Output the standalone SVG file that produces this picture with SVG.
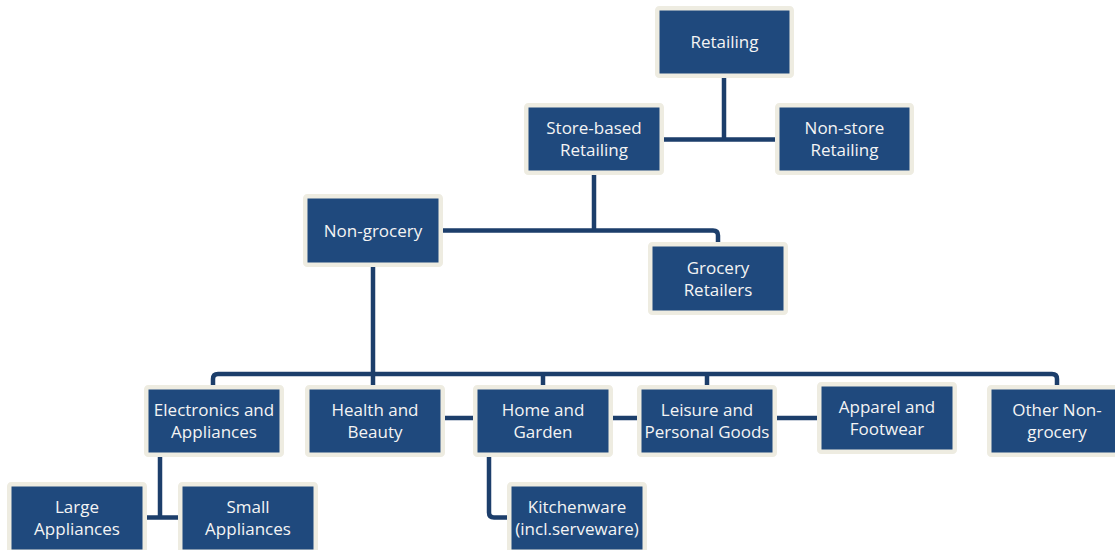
<svg xmlns="http://www.w3.org/2000/svg" width="1115" height="550" viewBox="0 0 1115 550">
<style>
.box{fill:#1F497D;stroke:#EEECE1;stroke-width:4.5}
.t{font-family:"Open Sans","Noto Sans",sans-serif;font-size:17px;fill:#F4F4F4;text-anchor:middle}
.c{fill:none;stroke:#1C3E6B;stroke-width:4.5;stroke-linejoin:round}
</style>
<rect width="1115" height="550" fill="#FFFFFF"/>
<g id="connectors" class="c">
<path d="M724,78 V139.5 M664,139.5 H775"/>
<path d="M594,175 V230.5 M443,230.5 H713 Q718,230.5 718,235.5 V242"/>
<path d="M373,267 V385"/>
<path d="M213,385 V379 Q213,374 218,374 H1052 Q1057,374 1057,379 V385 M543,374 V385 M707,374 V385"/>
<path d="M445,418 H473 M613,418 H637 M777,418 H817"/>
<path d="M160,457 V517.5 M147,517.5 H178"/>
<path d="M489,457 V512.5 Q489,517.5 494,517.5 H507"/>
</g>
<g id="retailing"><rect class="box" x="657.25" y="8.25" width="134.5" height="67.5" rx="2"/><text class="t" x="724.5" y="48">Retailing</text></g>
<g id="store-based"><rect class="box" x="526.25" y="105.25" width="135.5" height="67.5" rx="2"/><text class="t" x="594" y="134">Store-based</text><text class="t" x="594" y="156">Retailing</text></g>
<g id="non-store"><rect class="box" x="777.25" y="105.25" width="134.5" height="67.5" rx="2"/><text class="t" x="844.5" y="134">Non-store</text><text class="t" x="844.5" y="156">Retailing</text></g>
<g id="non-grocery"><rect class="box" x="305.25" y="196.25" width="135.5" height="68.5" rx="2"/><text class="t" x="373" y="236.5">Non-grocery</text></g>
<g id="grocery"><rect class="box" x="650.25" y="244.25" width="135.5" height="68.5" rx="2"/><text class="t" x="718" y="274">Grocery</text><text class="t" x="718" y="296">Retailers</text></g>
<g id="electronics"><rect class="box" x="146.25" y="387.25" width="135.5" height="67.5" rx="2"/><text class="t" x="214" y="416">Electronics and</text><text class="t" x="214" y="438">Appliances</text></g>
<g id="health"><rect class="box" x="307.25" y="387.25" width="135.5" height="67.5" rx="2"/><text class="t" x="375" y="416">Health and</text><text class="t" x="375" y="438">Beauty</text></g>
<g id="home"><rect class="box" x="475.25" y="387.25" width="135.5" height="67.5" rx="2"/><text class="t" x="543" y="416">Home and</text><text class="t" x="543" y="438">Garden</text></g>
<g id="leisure"><rect class="box" x="639.25" y="387.25" width="135.5" height="67.5" rx="2"/><text class="t" x="707" y="416">Leisure and</text><text class="t" x="707" y="438">Personal Goods</text></g>
<g id="apparel"><rect class="box" x="819.25" y="384.25" width="135.5" height="67.5" rx="2"/><text class="t" x="887" y="413">Apparel and</text><text class="t" x="887" y="435">Footwear</text></g>
<g id="other"><rect class="box" x="989.25" y="387.25" width="135.5" height="67.5" rx="2"/><text class="t" x="1057" y="416">Other Non-</text><text class="t" x="1057" y="438">grocery</text></g>
<g id="large"><rect class="box" x="9.25" y="484.25" width="135.5" height="67.5" rx="2"/><text class="t" x="77" y="513">Large</text><text class="t" x="77" y="535">Appliances</text></g>
<g id="small"><rect class="box" x="180.25" y="484.25" width="135.5" height="67.5" rx="2"/><text class="t" x="248" y="513">Small</text><text class="t" x="248" y="535">Appliances</text></g>
<g id="kitchenware"><rect class="box" x="509.25" y="484.25" width="135.5" height="67.5" rx="2"/><text class="t" x="577" y="513">Kitchenware</text><text class="t" x="577" y="535">(incl.serveware)</text></g>
</svg>
